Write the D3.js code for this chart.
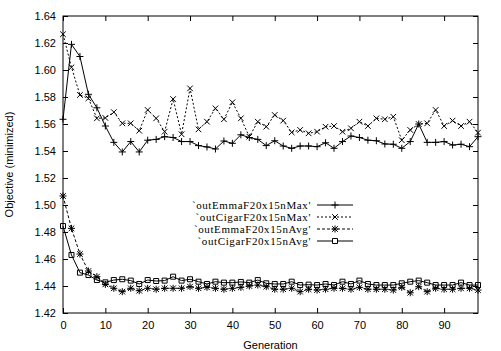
<!DOCTYPE html>
<html lang="en">
<head>
<meta charset="utf-8">
<script src="https://cdn.jsdelivr.net/npm/d3@7"></script>
<style>
  body { margin: 0; background: #fff; }
  svg { display: block; }
</style>
</head>
<body>
<script>
// generations, one sample every 2
var generations = d3.range(0, 100, 2);

var emmaMax = [1.5635, 1.619, 1.610, 1.582, 1.572, 1.5585, 1.5464, 1.5393, 1.547, 1.5393,
  1.548, 1.5486, 1.5506, 1.550, 1.547, 1.547, 1.544, 1.543, 1.5415, 1.5474,
  1.5457, 1.552, 1.550, 1.5486, 1.544, 1.5476, 1.5437, 1.542, 1.5437, 1.5437,
  1.5432, 1.5461, 1.542, 1.547, 1.5511, 1.550, 1.548, 1.5476, 1.5452, 1.545,
  1.542, 1.547, 1.560, 1.5464, 1.5464, 1.547, 1.5444, 1.545, 1.5432, 1.5506];

var cigarMax = [1.6265, 1.602, 1.5815, 1.579, 1.5642, 1.5645, 1.5688, 1.5605, 1.5605, 1.555,
  1.5704, 1.5642, 1.5543, 1.5785, 1.5524, 1.5864, 1.556, 1.5617, 1.5716, 1.5635,
  1.5761, 1.5642, 1.5506, 1.5617, 1.558, 1.5667, 1.5625, 1.5538, 1.5556, 1.5531,
  1.5543, 1.558, 1.5585, 1.5543, 1.5568, 1.5617, 1.5585, 1.5642, 1.5635, 1.5654,
  1.548, 1.5556, 1.560, 1.5605, 1.5704, 1.5585, 1.5625, 1.5585, 1.5617, 1.5536];

var emmaAvg = [1.5067, 1.4827, 1.4637, 1.4511, 1.4469, 1.4412, 1.4383, 1.4358, 1.4383, 1.4365,
  1.4383, 1.4376, 1.4383, 1.4383, 1.4383, 1.4395, 1.4383, 1.439, 1.4383, 1.4376,
  1.4383, 1.439, 1.440, 1.4407, 1.4395, 1.4376, 1.4376, 1.4383, 1.4358, 1.4376,
  1.437, 1.4376, 1.4383, 1.4383, 1.4376, 1.439, 1.4376, 1.4376, 1.4376, 1.437,
  1.439, 1.435, 1.4395, 1.4358, 1.4383, 1.4376, 1.4376, 1.4383, 1.4383, 1.437];

var cigarAvg = [1.4844, 1.463, 1.4499, 1.4481, 1.4444, 1.4427, 1.4444, 1.445, 1.444, 1.4415,
  1.4444, 1.4437, 1.444, 1.4469, 1.444, 1.445, 1.4432, 1.4415, 1.4432, 1.4425,
  1.4425, 1.443, 1.4425, 1.4444, 1.442, 1.4415, 1.4415, 1.4432, 1.4407, 1.441,
  1.4407, 1.4415, 1.4407, 1.4432, 1.4415, 1.444, 1.4415, 1.4407, 1.4407, 1.4407,
  1.442, 1.4432, 1.444, 1.4425, 1.4407, 1.4407, 1.4407, 1.4425, 1.4407, 1.4407];

var seriesNames = ["`outEmmaF20x15nMax'", "`outCigarF20x15nMax'", "`outEmmaF20x15nAvg'", "`outCigarF20x15nAvg'"];
var xTicks = d3.range(0, 100, 10);
var yTicks = d3.range(0, 12).map(function(i){ return +(1.42 + i * 0.02).toFixed(2); });

var w = 501, h = 351;
var m = {left: 63, right: 478, top: 16, bottom: 313};

var svg = d3.select("body").append("svg")
    .attr("width", w)
    .attr("height", h);

var x = d3.scaleLinear().domain([0, 98]).range([m.left, m.right]);
var y = d3.scaleLinear().domain([1.42, 1.64]).range([m.bottom, m.top]);

// axes: gnuplot style, ticks pointing inward on all four sides
function styleAxis(g, keepText) {
    g.select(".domain").remove();
    g.selectAll(".tick line").attr("stroke", "#000").attr("stroke-width", 1);
    if (!keepText) g.selectAll(".tick text").remove();
    g.selectAll(".tick text")
        .attr("fill", "#000")
        .attr("font-family", "Liberation Sans, Arial, sans-serif")
        .attr("font-size", "11px");
}

svg.append("g")
    .attr("transform", "translate(0," + m.bottom + ")")
    .call(d3.axisBottom(x).tickValues(xTicks).tickSize(-5).tickPadding(8))
    .call(styleAxis, true);
svg.append("g")
    .attr("transform", "translate(0," + m.top + ")")
    .call(d3.axisTop(x).tickValues(xTicks).tickSize(-5))
    .call(styleAxis, false);
svg.append("g")
    .attr("transform", "translate(" + m.left + ",0)")
    .call(d3.axisLeft(y).tickValues(yTicks).tickFormat(d3.format(".2f")).tickSize(-5).tickPadding(7))
    .call(styleAxis, true);
svg.append("g")
    .attr("transform", "translate(" + m.right + ",0)")
    .call(d3.axisRight(y).tickValues(yTicks).tickSize(-5))
    .call(styleAxis, false);

svg.append("rect")
    .attr("x", m.left).attr("y", m.top)
    .attr("width", m.right - m.left).attr("height", m.bottom - m.top)
    .attr("fill", "none").attr("stroke", "#000").attr("stroke-width", 1);

// axis titles
svg.append("text")
    .attr("x", (m.left + m.right) / 2).attr("y", 349)
    .attr("text-anchor", "middle")
    .attr("font-family", "Liberation Sans, Arial, sans-serif")
    .attr("font-size", "11px")
    .text("Generation");
svg.append("text")
    .attr("transform", "translate(13," + ((m.top + m.bottom) / 2) + ") rotate(-90)")
    .attr("text-anchor", "middle")
    .attr("font-family", "Liberation Sans, Arial, sans-serif")
    .attr("font-size", "11px")
    .text("Objective (minimized)");

// point shapes
var shapes = {
    plus: "M-3.5,0H3.5M0,-3.5V3.5",
    cross: "M-2.8,-2.8L2.8,2.8M-2.8,2.8L2.8,-2.8",
    star: "M-3.5,0H3.5M0,-3.5V3.5M-2.8,-2.8L2.8,2.8M-2.8,2.8L2.8,-2.8",
    square: "M-2.5,-2.5H2.5V2.5H-2.5Z"
};

var series = [
    {name: seriesNames[0], values: emmaMax, dash: null, shape: "plus"},
    {name: seriesNames[1], values: cigarMax, dash: "2,2", shape: "cross"},
    {name: seriesNames[2], values: emmaAvg, dash: "3,2", shape: "star"},
    {name: seriesNames[3], values: cigarAvg, dash: null, shape: "square"}
];

var line = d3.line()
    .x(function(d){ return x(d[0]); })
    .y(function(d){ return y(d[1]); });

var plot = svg.append("g");

series.forEach(function(s) {
    var pts = generations.map(function(g, i){ return [g, s.values[i]]; });
    plot.append("path")
        .datum(pts)
        .attr("d", line)
        .attr("fill", "none")
        .attr("stroke", "#000")
        .attr("stroke-width", 1)
        .attr("stroke-dasharray", s.dash);
    plot.selectAll(null)
        .data(pts)
        .enter()
        .append("path")
        .attr("transform", function(d){ return "translate(" + x(d[0]) + "," + y(d[1]) + ")"; })
        .attr("d", shapes[s.shape])
        .attr("fill", "none")
        .attr("stroke", "#000")
        .attr("stroke-width", 1);
});

// legend
var legend = svg.append("g");
var rowY = [205, 217, 229, 241];
series.forEach(function(s, i) {
    legend.append("text")
        .attr("x", 311).attr("y", rowY[i])
        .attr("dy", "0.35em")
        .attr("text-anchor", "end")
        .attr("font-family", "Liberation Serif, Times New Roman, serif")
        .attr("font-size", "11px")
        .attr("letter-spacing", "0.6px")
        .text(s.name);
    legend.append("line")
        .attr("x1", 317).attr("x2", 353)
        .attr("y1", rowY[i]).attr("y2", rowY[i])
        .attr("stroke", "#000").attr("stroke-width", 1)
        .attr("stroke-dasharray", s.dash);
    legend.append("path")
        .attr("transform", "translate(335," + rowY[i] + ")")
        .attr("d", shapes[s.shape])
        .attr("fill", s.shape === "square" ? "#fff" : "none")
        .attr("stroke", "#000").attr("stroke-width", 1);
});
</script>
</body>
</html>
